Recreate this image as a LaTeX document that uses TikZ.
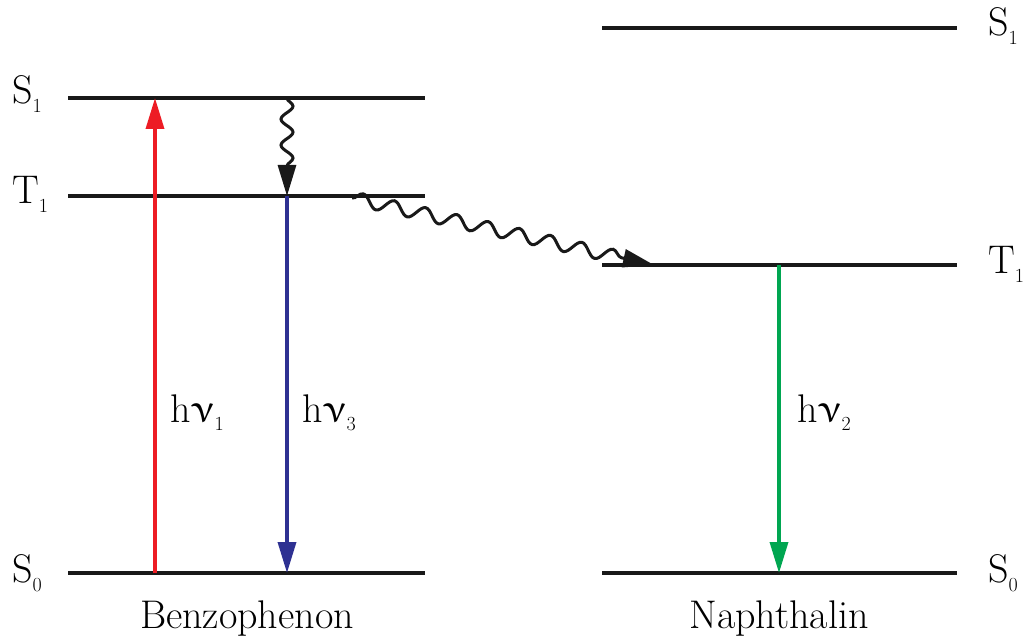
\documentclass[tikz,border=0pt]{standalone}
\usepackage{upgreek}
\usetikzlibrary{arrows.meta,decorations.pathmorphing}
\definecolor{cred}{RGB}{237,28,36}
\definecolor{cblue}{RGB}{46,49,146}
\definecolor{cgreen}{RGB}{0,166,81}
\newcommand\lsub[1]{\raisebox{-9pt}{\fontsize{20}{24}\selectfont #1}}
\tikzset{
  level/.style={line width=4pt,black!90},
  lbl/.style={inner sep=0pt,font=\fontsize{40}{46}\selectfont},
  photon/.style={line width=3.5pt,-{Triangle[length=31pt,width=18pt]}},
  wavy/.style={line width=3pt,black!90,-{Triangle[length=31pt,width=18pt]},
    decorate,decoration={snake,amplitude=6pt,segment length=26pt,post length=29pt}}
}
\begin{document}
\begin{tikzpicture}[x=1pt,y=-1pt]
\useasboundingbox (0,0) rectangle (1026,644);
% left levels
\coordinate (LS1a) at (68,98);  \coordinate (LS1b) at (425,98);
\coordinate (LT1a) at (68,196); \coordinate (LT1b) at (425,196);
\coordinate (LS0a) at (68,573); \coordinate (LS0b) at (425,573);
% right levels
\coordinate (RS1a) at (602,28);  \coordinate (RS1b) at (957,28);
\coordinate (RT1a) at (602,265); \coordinate (RT1b) at (957,265);
\coordinate (RS0a) at (602,573); \coordinate (RS0b) at (957,573);
\draw[level] (LS1a) -- (LS1b);
\draw[level] (LT1a) -- (LT1b);
\draw[level] (LS0a) -- (LS0b);
\draw[level] (RS1a) -- (RS1b);
\draw[level] (RT1a) -- (RT1b);
\draw[level] (RS0a) -- (RS0b);
% labels
\node[lbl,anchor=base west] (lS1) at (12,104) {S\lsub{1}};
\node[lbl,anchor=base west] (lT1) at (12,204) {T\lsub{1}};
\node[lbl,anchor=base west] (lS0) at (12,582) {S\lsub{0}};
\node[lbl,anchor=base west] (rS1) at (988,36) {S\lsub{1}};
\node[lbl,anchor=base west] (rT1) at (988,274) {T\lsub{1}};
\node[lbl,anchor=base west] (rS0) at (988,582) {S\lsub{0}};
\node[lbl,anchor=base] (benz) at (247,628) {Benzophenon};
\node[lbl,anchor=base] (naph) at (779,628) {Naphthalin};
% transition coordinates
\coordinate (a1s) at (155,573); \coordinate (a1e) at (155,98);
\coordinate (a3s) at (287,196); \coordinate (a3e) at (287,573);
\coordinate (a2s) at (779,265); \coordinate (a2e) at (779,573);
\coordinate (w1s) at (287,98);  \coordinate (w1e) at (287,196);
\coordinate (w2s) at (352,198); \coordinate (w2e) at (654,265);
\draw[photon,cred] (a1s) -- (a1e);
\draw[photon,cblue] (a3s) -- (a3e);
\draw[photon,cgreen] (a2s) -- (a2e);
\draw[wavy] (w1s) -- (w1e);
\draw[wavy,decoration={amplitude=6.5pt,segment length=32pt}] (w2s) -- (w2e);
% photon labels
\node[lbl,anchor=base west] (h1) at (170,422) {h$\upnu$\lsub{1}};
\node[lbl,anchor=base west] (h3) at (302,422) {h$\upnu$\lsub{3}};
\node[lbl,anchor=base west] (h2) at (797,422) {h$\upnu$\lsub{2}};
\end{tikzpicture}
\end{document}
